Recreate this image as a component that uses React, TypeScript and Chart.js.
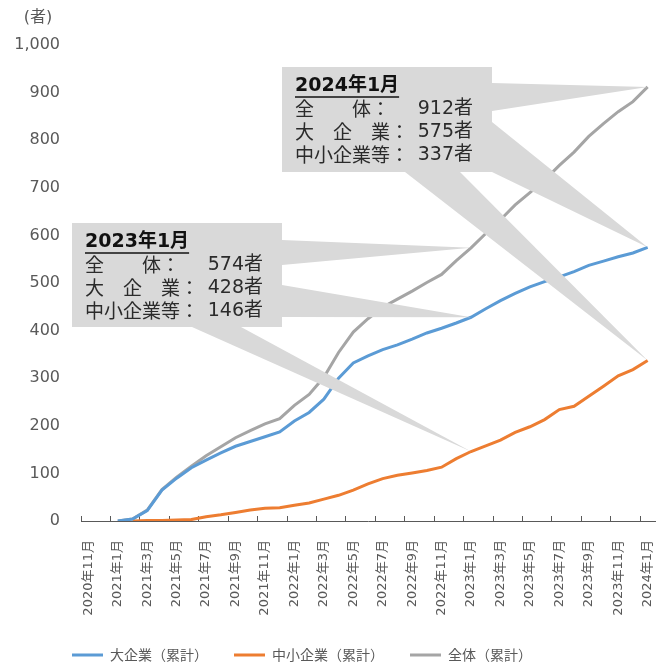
import React, { useEffect, useRef } from 'react';
import { Chart, registerables } from 'chart.js';

Chart.register(...registerables);

const CJK = '"Noto Sans CJK JP", sans-serif';
const MIX = '"DejaVu Sans", "Noto Sans CJK JP", sans-serif';

const months = [
  '2020年11月', '2020年12月',
  '2021年1月', '2021年2月', '2021年3月', '2021年4月', '2021年5月', '2021年6月',
  '2021年7月', '2021年8月', '2021年9月', '2021年10月', '2021年11月', '2021年12月',
  '2022年1月', '2022年2月', '2022年3月', '2022年4月', '2022年5月', '2022年6月',
  '2022年7月', '2022年8月', '2022年9月', '2022年10月', '2022年11月', '2022年12月',
  '2023年1月', '2023年2月', '2023年3月', '2023年4月', '2023年5月', '2023年6月',
  '2023年7月', '2023年8月', '2023年9月', '2023年10月', '2023年11月', '2023年12月',
  '2024年1月',
];

const largeCorp = [
  null, null, 0, 4, 22, 65, 90, 112, 128, 143,
  157, 167, 177, 187, 210, 228, 256, 300, 332, 347,
  360, 370, 382, 395, 405, 416, 428, 446, 463, 478,
  492, 503, 513, 524, 537, 546, 555, 563, 575,
];

const smeCorp = [
  null, null, null, 0, 1, 1, 2, 3, 9, 13,
  18, 23, 27, 28, 33, 38, 46, 54, 65, 78,
  89, 96, 101, 106, 113, 131, 146, 158, 170, 186,
  198, 213, 234, 241, 262, 283, 305, 318, 337,
];

const totalAll = [
  null, null, 0, 4, 23, 66, 92, 115, 137, 156,
  175, 190, 204, 215, 243, 266, 302, 354, 397, 425,
  449, 466, 483, 501, 518, 547, 574, 604, 633, 664,
  690, 716, 747, 775, 808, 835, 860, 881, 912,
];

const seriesNames = ['大企業（累計）', '中小企業（累計）', '全体（累計）'];
const rowLabels = ['全　　体', '大　企　業', '中小企業等'];
const yTickValues = [0, 100, 200, 300, 400, 500, 600, 700, 800, 900, 1000];
const yUnit = '(者)';

const COLORS = ['#5B9BD5', '#ED7D31', '#A5A5A5'];
const CALLOUT_FILL = '#D9D9D9';

type Pt = [number, number];
interface Callout {
  idx: number;
  box: [number, number, number, number];
  wedges: { series: (number | null)[]; base: [Pt, Pt] }[];
}

const callouts: Callout[] = [
  {
    idx: 26,
    box: [72, 223, 210, 104],
    wedges: [
      { series: totalAll, base: [[282, 240], [282, 265]] },
      { series: largeCorp, base: [[282, 285], [282, 317]] },
      { series: smeCorp, base: [[192, 327], [241, 327]] },
    ],
  },
  {
    idx: 38,
    box: [282, 67, 210, 105],
    wedges: [
      { series: totalAll, base: [[492, 83], [492, 111]] },
      { series: largeCorp, base: [[492, 122], [492, 172]] },
      { series: smeCorp, base: [[405, 172], [460, 172]] },
    ],
  },
];

const calloutPlugin = {
  id: 'callouts',
  afterLayout(chart: any) {
    if (chart.legend) {
      chart.legend.left = 46;
    }
  },
  afterDatasetsDraw(chart: any) {
    const ctx = chart.ctx as CanvasRenderingContext2D;
    const xs = chart.scales.x;
    const ys = chart.scales.y;
    ctx.save();
    callouts.forEach((c) => {
      const [bx, by, bw, bh] = c.box;
      const tx = xs.getPixelForValue(c.idx);
      ctx.fillStyle = CALLOUT_FILL;
      c.wedges.forEach((w) => {
        const ty = ys.getPixelForValue(w.series[c.idx] as number);
        ctx.beginPath();
        ctx.moveTo(w.base[0][0], w.base[0][1]);
        ctx.lineTo(tx, ty);
        ctx.lineTo(w.base[1][0], w.base[1][1]);
        ctx.closePath();
        ctx.fill();
      });
      ctx.fillRect(bx, by, bw, bh);

      const x0 = bx + 13;
      const xr = x0 + 178;
      ctx.textBaseline = 'middle';
      ctx.textAlign = 'left';
      ctx.fillStyle = '#111111';
      ctx.font = `bold 19px ${MIX}`;
      const title = months[c.idx];
      ctx.fillText(title, x0, by + 19);
      const tw = ctx.measureText(title).width;
      ctx.strokeStyle = '#111111';
      ctx.lineWidth = 1.5;
      ctx.beginPath();
      ctx.moveTo(x0, by + 30);
      ctx.lineTo(x0 + tw, by + 30);
      ctx.stroke();

      ctx.fillStyle = '#2b2b2b';
      const vals = [totalAll[c.idx], largeCorp[c.idx], smeCorp[c.idx]];
      rowLabels.forEach((lab, i) => {
        const yy = by + 42 + i * 23;
        ctx.textAlign = 'left';
        ctx.font = `19px ${CJK}`;
        ctx.fillText(`${lab}：`, x0, yy);
        ctx.textAlign = 'right';
        ctx.font = `19px ${MIX}`;
        ctx.fillText(`${vals[i]}者`, xr, yy);
      });
    });

    ctx.textAlign = 'center';
    ctx.textBaseline = 'middle';
    ctx.fillStyle = '#595959';
    ctx.font = `16px ${MIX}`;
    ctx.fillText(yUnit, 38, 18);
    ctx.restore();
  },
};

export default function App() {
  const ref = useRef<HTMLCanvasElement | null>(null);

  useEffect(() => {
    if (!ref.current) return;
    const chart = new Chart(ref.current, {
      type: 'line',
      data: {
        labels: months,
        datasets: [
          { label: seriesNames[0], data: largeCorp, borderColor: COLORS[0], backgroundColor: COLORS[0], borderWidth: 3, pointRadius: 0, tension: 0 },
          { label: seriesNames[1], data: smeCorp, borderColor: COLORS[1], backgroundColor: COLORS[1], borderWidth: 3, pointRadius: 0, tension: 0 },
          { label: seriesNames[2], data: totalAll, borderColor: COLORS[2], backgroundColor: COLORS[2], borderWidth: 3, pointRadius: 0, tension: 0 },
        ],
      },
      options: {
        responsive: false,
        animation: false,
        events: [],
        layout: { padding: { left: 8, right: 5, top: 45, bottom: -4 } },
        plugins: {
          tooltip: { enabled: false },
          legend: {
            position: 'bottom',
            align: 'start',
            labels: {
              usePointStyle: true,
              pointStyle: 'line',
              pointStyleWidth: 31,
              padding: 26,
              color: '#595959',
              font: { family: CJK, size: 14 },
            },
          },
        },
        scales: {
          x: {
            type: 'category',
            offset: true,
            grid: {
              display: true,
              drawOnChartArea: false,
              drawTicks: true,
              tickLength: -5,
              offset: true,
              lineWidth: 1,
              color: (ctx: any) => (ctx.index !== undefined && ctx.index % 2 === 0 ? '#595959' : 'rgba(0,0,0,0)'),
            },
            border: { display: true, color: '#595959', width: 1 },
            ticks: {
              autoSkip: false,
              minRotation: 90,
              maxRotation: 90,
              padding: 24,
              color: '#595959',
              font: { family: MIX, size: 13 },
              callback: (_v: any, i: number) => (i % 2 === 0 ? months[i] : ''),
            },
            afterFit: (s: any) => {
              s.height = 101;
              s.paddingLeft = 0;
              s.paddingRight = 0;
            },
          },
          y: {
            min: 0,
            max: 1000,
            grid: { display: false, drawTicks: false },
            border: { display: false },
            afterBuildTicks: (s: any) => {
              s.ticks = yTickValues.map((v) => ({ value: v }));
            },
            ticks: {
              padding: 21,
              color: '#595959',
              font: { family: MIX, size: 16 },
              callback: (v: any) => Number(v).toLocaleString('en-US'),
            },
            afterFit: (s: any) => {
              s.width = 73;
            },
          },
        },
      },
      plugins: [calloutPlugin],
    });
    return () => chart.destroy();
  }, []);

  return (
    <div style={{ position: 'fixed', left: 0, top: 0, width: 660, height: 668, background: '#fff' }}>
      <canvas ref={ref} width={660} height={668} style={{ display: 'block' }} />
    </div>
  );
}
